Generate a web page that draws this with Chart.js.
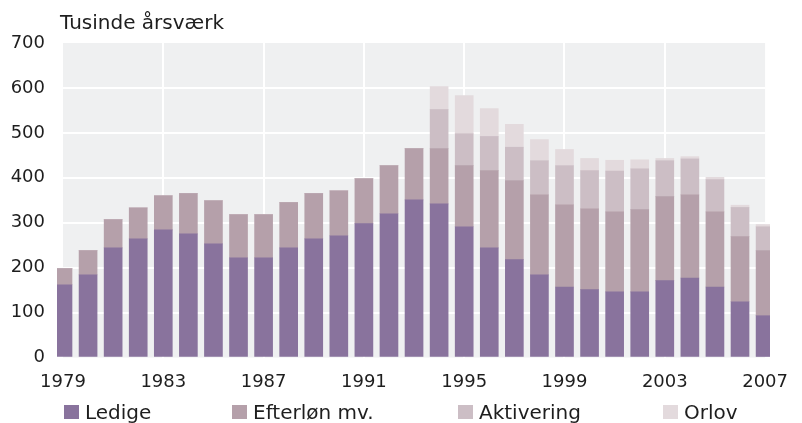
<!DOCTYPE html>
<html><head><meta charset="utf-8">
<style>html,body{margin:0;padding:0;background:#fff}#wrap{width:802px;height:423px;position:relative}</style>
</head><body><div id="wrap"><canvas id="c" width="802" height="423"></canvas></div>
<script src="https://cdn.jsdelivr.net/npm/chart.js@4.4.1/dist/chart.umd.min.js"></script>
<script>
const years = ['1979','1980','1981','1982','1983','1984','1985','1986','1987','1988','1989','1990','1991','1992','1993','1994','1995','1996','1997','1998','1999','2000','2001','2002','2003','2004','2005','2006','2007'];
const ledige     = [162,184,244,264,284,275,253,222,222,244,264,271,298,320,351,342,291,244,218,184,157,151,146,146,171,177,157,124,93];
const efterlon   = [36,54,63,69,76,90,96,96,96,101,101,100,100,107,114,123,136,172,176,178,183,180,178,183,187,185,167,145,145];
const aktivering = [0,0,0,0,0,0,0,0,0,0,0,0,0,0,0,87,71,76,74,76,87,85,91,91,80,80,72,65,53];
const orlov      = [0,0,0,0,0,0,0,0,0,0,0,0,0,0,0,51,85,62,51,47,36,27,24,20,5,5,5,5,5];
const seriesNames = ['Ledige','Efterløn mv.','Aktivering','Orlov'];
const xTickLabels = ['1979','1983','1987','1991','1995','1999','2003','2007'];
const yTickValues = [0,100,200,300,400,500,600,700];
const unitTitle = 'Tusinde årsværk';

const colors = ['#89739d','#b5a0aa','#ccbec5','#e3dadd'];
const FONT = 'DejaVu Sans';
const TXT = '#1e1e1e';

const bgPlugin = {
  id: 'bg',
  beforeDraw(chart) {
    const a = chart.chartArea, ctx = chart.ctx;
    ctx.save();
    ctx.fillStyle = '#eff0f1';
    ctx.fillRect(a.left, a.top, a.right - a.left, a.bottom - a.top);
    ctx.restore();
  },
  afterDraw(chart) {
    const ctx = chart.ctx;
    ctx.save();
    ctx.fillStyle = TXT;
    ctx.textBaseline = 'alphabetic';
    ctx.textAlign = 'left';
    ctx.font = '20px "' + FONT + '"';
    ctx.fillText(unitTitle, 60, 29);
    // legend
    const boxX = [64, 232, 458, 663];
    chart.data.datasets.forEach((ds, i) => {
      ctx.fillStyle = ds.backgroundColor;
      ctx.fillRect(boxX[i], 405, 15, 14);
      ctx.fillStyle = TXT;
      ctx.fillText(ds.label, boxX[i] + 21, 419);
    });
    ctx.restore();
  }
};

new Chart(document.getElementById('c'), {
  type: 'bar',
  data: {
    labels: years,
    datasets: [ledige, efterlon, aktivering, orlov].map((d, i) => ({
      label: seriesNames[i],
      data: d,
      backgroundColor: colors[i],
      borderWidth: 0,
      barThickness: 18,
      clip: {left: 6, right: 5, top: false, bottom: false}
    }))
  },
  options: {
    responsive: false,
    animation: false,
    devicePixelRatio: 1,
    layout: {padding: {top: 43, right: 24, left: 0, bottom: 0}},
    plugins: {legend: {display: false}, title: {display: false}, tooltip: {enabled: false}},
    scales: {
      x: {
        type: 'category',
        stacked: true,
        offset: false,
        border: {display: false},
        grid: {
          offset: false,
          drawTicks: false,
          lineWidth: 2,
          color: (c) => {
            const i = c.index;
            if (i === 0 || i === years.length - 1) return 'rgba(0,0,0,0)';
            return xTickLabels.includes(years[i]) ? '#ffffff' : 'rgba(0,0,0,0)';
          }
        },
        ticks: {
          autoSkip: false,
          maxRotation: 0,
          padding: 14,
          color: TXT,
          font: {family: FONT, size: 18},
          callback: (v, i) => xTickLabels.includes(years[i]) ? years[i] : ''
        },
        afterFit: (s) => { s.height = 65.5; }
      },
      y: {
        stacked: true,
        min: 0,
        max: 700,
        border: {display: false},
        afterBuildTicks: (s) => { s.ticks = yTickValues.map(v => ({value: v})); },
        grid: {
          drawTicks: false,
          lineWidth: 2,
          color: (c) => (c.tick && (c.tick.value === 0 || c.tick.value === 700)) ? 'rgba(0,0,0,0)' : '#ffffff'
        },
        ticks: {
          padding: 18,
          color: TXT,
          font: {family: FONT, size: 18}
        },
        afterFit: (s) => { s.width = 63; }
      }
    }
  },
  plugins: [bgPlugin]
});
</script>
</body></html>
